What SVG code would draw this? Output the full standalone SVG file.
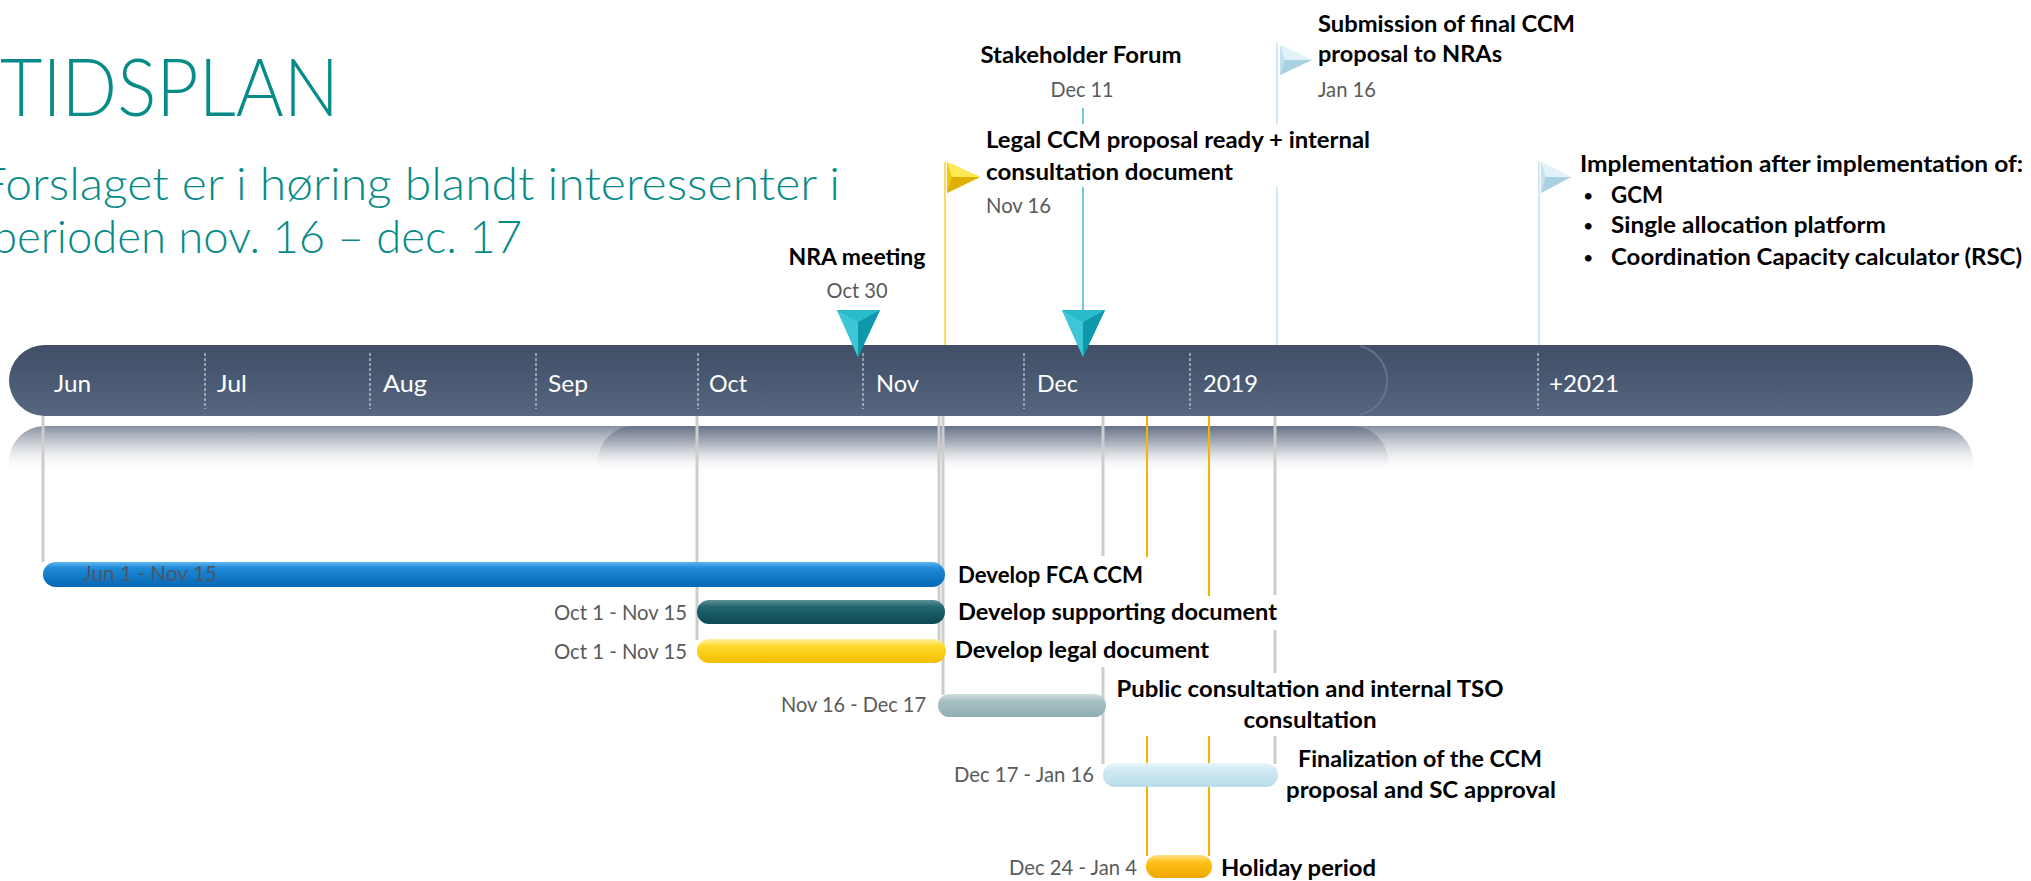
<svg xmlns="http://www.w3.org/2000/svg" width="2031" height="881" viewBox="0 0 2031 881">
<style>
text{font-family:Lato,"Open Sans","Liberation Sans",sans-serif}
.t{fill:#078B88;font-weight:300}
.b{font-weight:700;font-size:23px;fill:#000}
.bu{font-weight:400;font-size:18px;fill:#000}
.d{font-weight:400;font-size:21px;fill:#5A5A5A}
.m{font-weight:400;font-size:24px;fill:#fff}
.g{stroke:#CDCDCD;stroke-width:3;fill:none}
.o{stroke:#F5B400;stroke-width:2;fill:none}
.div{stroke:#D5DBE3;stroke-width:1.5;stroke-dasharray:3 2;opacity:.75}
</style>
<defs>
<linearGradient id="barG" x1="0" y1="0" x2="0" y2="1">
<stop offset="0" stop-color="#414E66"/><stop offset="0.5" stop-color="#4A5A73"/><stop offset="1" stop-color="#56677F"/>
</linearGradient>
<linearGradient id="refG" x1="0" y1="0" x2="0" y2="1">
<stop offset="0" stop-color="#5E6A80" stop-opacity="0.75"/><stop offset="0.35" stop-color="#8D96A5" stop-opacity="0.45"/><stop offset="0.9" stop-color="#ffffff" stop-opacity="0"/>
</linearGradient>
<linearGradient id="blueG" x1="0" y1="0" x2="0" y2="1">
<stop offset="0" stop-color="#5BB5EE"/><stop offset="0.25" stop-color="#1F8AD8"/><stop offset="1" stop-color="#0467B5"/>
</linearGradient>
<linearGradient id="tealG" x1="0" y1="0" x2="0" y2="1">
<stop offset="0" stop-color="#5C8F96"/><stop offset="0.3" stop-color="#226570"/><stop offset="1" stop-color="#0B4853"/>
</linearGradient>
<linearGradient id="yelG" x1="0" y1="0" x2="0" y2="1">
<stop offset="0" stop-color="#FFF3A0"/><stop offset="0.3" stop-color="#FFDA2A"/><stop offset="1" stop-color="#F2BD00"/>
</linearGradient>
<linearGradient id="pubG" x1="0" y1="0" x2="0" y2="1">
<stop offset="0" stop-color="#D2E0E1"/><stop offset="0.3" stop-color="#A8C0C2"/><stop offset="1" stop-color="#90AEB1"/>
</linearGradient>
<linearGradient id="finG" x1="0" y1="0" x2="0" y2="1">
<stop offset="0" stop-color="#EAF6FB"/><stop offset="0.3" stop-color="#CFE9F3"/><stop offset="1" stop-color="#B8DDEB"/>
</linearGradient>
<linearGradient id="holG" x1="0" y1="0" x2="0" y2="1">
<stop offset="0" stop-color="#FFE08A"/><stop offset="0.3" stop-color="#FFC21A"/><stop offset="1" stop-color="#EFA600"/>
</linearGradient>
</defs>

<rect width="2031" height="881" fill="#fff"/>

<g id="title">
<text class="t" x="0" y="116" font-size="80" textLength="339" lengthAdjust="spacingAndGlyphs">TIDSPLAN</text>
<text class="t" x="-20" y="200" font-size="45" textLength="860" lengthAdjust="spacingAndGlyphs">Forslaget er i høring blandt interessenter i</text>
<text class="t" x="-8" y="253" font-size="45" textLength="530" lengthAdjust="spacingAndGlyphs">perioden nov. 16 – dec. 17</text>
</g>

<g id="timeline">
<path d="M633.5,426 L1937.5,426 A35.5,35.5 0 0 1 1973,461.5 L1973,478 L598,478 L598,461.5 A35.5,35.5 0 0 1 633.5,426 Z" fill="url(#refG)"/>
<path d="M44.5,426 L1352.5,426 A35.5,35.5 0 0 1 1388,461.5 L1388,478 L9,478 L9,461.5 A35.5,35.5 0 0 1 44.5,426 Z" fill="url(#refG)"/>
<rect x="598" y="345" width="1375" height="71" rx="35.5" fill="url(#barG)"/>
<rect x="9" y="345" width="1379" height="71" rx="35.5" fill="url(#barG)"/>
<path d="M1360,346 A35.5,35.5 0 0 1 1360,415" fill="none" stroke="#6A7891" stroke-width="2" opacity="0.8"/>
<line class="div" x1="205" y1="353" x2="205" y2="409"/>
<line class="div" x1="370" y1="353" x2="370" y2="409"/>
<line class="div" x1="536" y1="353" x2="536" y2="409"/>
<line class="div" x1="698" y1="353" x2="698" y2="409"/>
<line class="div" x1="863" y1="353" x2="863" y2="409"/>
<line class="div" x1="1024" y1="353" x2="1024" y2="409"/>
<line class="div" x1="1190" y1="353" x2="1190" y2="409"/>
<line class="div" x1="1538" y1="353" x2="1538" y2="409"/>
<text class="m" x="54" y="392" textLength="37" lengthAdjust="spacingAndGlyphs">Jun</text>
<text class="m" x="217" y="392" textLength="30" lengthAdjust="spacingAndGlyphs">Jul</text>
<text class="m" x="383" y="392" textLength="44" lengthAdjust="spacingAndGlyphs">Aug</text>
<text class="m" x="548" y="392" textLength="40" lengthAdjust="spacingAndGlyphs">Sep</text>
<text class="m" x="709" y="392" textLength="38" lengthAdjust="spacingAndGlyphs">Oct</text>
<text class="m" x="876" y="392" textLength="43" lengthAdjust="spacingAndGlyphs">Nov</text>
<text class="m" x="1037" y="392" textLength="41" lengthAdjust="spacingAndGlyphs">Dec</text>
<text class="m" x="1203" y="392" textLength="55" lengthAdjust="spacingAndGlyphs">2019</text>
<text class="m" x="1549" y="392" textLength="70" lengthAdjust="spacingAndGlyphs">+2021</text>
</g>

<g id="connectors">
<line class="g" x1="43" y1="416" x2="43" y2="562"/>
<line class="g" x1="697" y1="416" x2="697" y2="640"/>
<line class="g" x1="939" y1="416" x2="939" y2="660"/>
<line class="g" x1="943" y1="416" x2="943" y2="695"/>
<line class="g" x1="1103" y1="416" x2="1103" y2="556"/>
<line class="g" x1="1103" y1="667" x2="1103" y2="764"/>
<line class="g" x1="1275" y1="416" x2="1275" y2="595"/>
<line class="g" x1="1275" y1="630" x2="1275" y2="673"/>
<line class="g" x1="1275" y1="736" x2="1275" y2="764"/>
<line class="o" x1="1147" y1="416" x2="1147" y2="557"/>
<line class="o" x1="1147" y1="736" x2="1147" y2="856"/>
<line class="o" x1="1209" y1="416" x2="1209" y2="596"/>
<line class="o" x1="1209" y1="736" x2="1209" y2="856"/>
<line x1="945" y1="162" x2="945" y2="345" stroke="#FFD966" stroke-width="2"/>
<line x1="1083" y1="108" x2="1083" y2="124" stroke="#6FCBD9" stroke-width="2"/>
<line x1="1083" y1="187" x2="1083" y2="312" stroke="#6FCBD9" stroke-width="2"/>
<line x1="1277" y1="43" x2="1277" y2="124" stroke="#CFE8F1" stroke-width="2"/>
<line x1="1277" y1="187" x2="1277" y2="345" stroke="#CFE8F1" stroke-width="2"/>
<line x1="1539" y1="162" x2="1539" y2="345" stroke="#CFE8F1" stroke-width="2"/>
</g>

<g id="nra-meeting">
<polygon points="837,310 880,310 858,357" fill="#1AAFC1"/>
<polygon points="837,310 858,322 858,357" fill="#3DC7D6"/>
<polygon points="880,310 858,322 858,357" fill="#0D98AB"/>
<polygon points="837,310 880,310 858,322" fill="#2ABBCB"/>
<text class="b" x="857" y="265" text-anchor="middle" textLength="137" lengthAdjust="spacingAndGlyphs">NRA meeting</text>
<text class="d" x="857" y="298" text-anchor="middle" textLength="61" lengthAdjust="spacingAndGlyphs">Oct 30</text>
</g>

<g id="stakeholder-forum">
<polygon points="1062,310 1105,310 1083,357" fill="#1AAFC1"/>
<polygon points="1062,310 1083,322 1083,357" fill="#3DC7D6"/>
<polygon points="1105,310 1083,322 1083,357" fill="#0D98AB"/>
<polygon points="1062,310 1105,310 1083,322" fill="#2ABBCB"/>
<text class="b" x="1081" y="63" text-anchor="middle" textLength="201" lengthAdjust="spacingAndGlyphs">Stakeholder Forum</text>
<text class="d" x="1082" y="97" text-anchor="middle" textLength="63" lengthAdjust="spacingAndGlyphs">Dec 11</text>
</g>

<g id="legal-ccm-ready">
<polygon points="947,162 980,177 947,193" fill="#F2C600"/>
<polygon points="947,162 980,177 952,177" fill="#FFE955"/>
<polygon points="947,193 980,177 952,177" fill="#E0B000"/>
<text class="b" x="986" y="148" textLength="384" lengthAdjust="spacingAndGlyphs">Legal CCM proposal ready + internal</text>
<text class="b" x="986" y="180" textLength="247" lengthAdjust="spacingAndGlyphs">consultation document</text>
<text class="d" x="986" y="213" textLength="65" lengthAdjust="spacingAndGlyphs">Nov 16</text>
</g>

<g id="submission">
<polygon points="1280,45 1312,60 1280,75" fill="#C3E2EE"/>
<polygon points="1280,45 1312,60 1285,60" fill="#E2F2F8"/>
<polygon points="1280,75 1312,60 1285,60" fill="#A8D2E2"/>
<text class="b" x="1318" y="32" textLength="257" lengthAdjust="spacingAndGlyphs">Submission of final CCM</text>
<text class="b" x="1318" y="62" textLength="184" lengthAdjust="spacingAndGlyphs">proposal to NRAs</text>
<text class="d" x="1318" y="97" textLength="58" lengthAdjust="spacingAndGlyphs">Jan 16</text>
</g>

<g id="implementation">
<polygon points="1541,162 1571,177 1541,193" fill="#C3E2EE"/>
<polygon points="1541,162 1571,177 1546,177" fill="#E2F2F8"/>
<polygon points="1541,193 1571,177 1546,177" fill="#A8D2E2"/>
<text class="b" x="1580" y="172" textLength="443" lengthAdjust="spacingAndGlyphs">Implementation after implementation of:</text>
<text class="bu" x="1583" y="202">•</text>
<text class="b" x="1611" y="203" textLength="52" lengthAdjust="spacingAndGlyphs">GCM</text>
<text class="bu" x="1583" y="232">•</text>
<text class="b" x="1611" y="233" textLength="275" lengthAdjust="spacingAndGlyphs">Single allocation platform</text>
<text class="bu" x="1583" y="264">•</text>
<text class="b" x="1611" y="265" textLength="411" lengthAdjust="spacingAndGlyphs">Coordination Capacity calculator (RSC)</text>
</g>

<g id="develop-fca-ccm">
<rect x="43" y="562" width="902" height="25" rx="12.5" fill="url(#blueG)"/>
<text class="d" x="83" y="581" style="fill:#4B5766" textLength="134" lengthAdjust="spacingAndGlyphs">Jun 1 - Nov 15</text>
<text class="b" x="958" y="583" textLength="185" lengthAdjust="spacingAndGlyphs">Develop FCA CCM</text>
</g>

<g id="develop-supporting-document">
<rect x="697" y="600" width="248" height="24" rx="12" fill="url(#tealG)"/>
<text class="d" x="687" y="620" text-anchor="end" textLength="133" lengthAdjust="spacingAndGlyphs">Oct 1 - Nov 15</text>
<text class="b" x="958" y="620" textLength="319" lengthAdjust="spacingAndGlyphs">Develop supporting document</text>
</g>

<g id="develop-legal-document">
<rect x="697" y="639" width="249" height="24" rx="12" fill="url(#yelG)"/>
<text class="d" x="687" y="659" text-anchor="end" textLength="133" lengthAdjust="spacingAndGlyphs">Oct 1 - Nov 15</text>
<text class="b" x="955" y="658" textLength="254" lengthAdjust="spacingAndGlyphs">Develop legal document</text>
</g>

<g id="public-consultation">
<rect x="938" y="694" width="168" height="23" rx="11.5" fill="url(#pubG)"/>
<text class="d" x="926" y="712" text-anchor="end" textLength="145" lengthAdjust="spacingAndGlyphs">Nov 16 - Dec 17</text>
<text class="b" x="1310" y="697" text-anchor="middle" textLength="387" lengthAdjust="spacingAndGlyphs">Public consultation and internal TSO</text>
<text class="b" x="1310" y="728" text-anchor="middle" textLength="133" lengthAdjust="spacingAndGlyphs">consultation</text>
</g>

<g id="finalization">
<rect x="1103" y="763" width="175" height="24" rx="12" fill="url(#finG)"/>
<text class="d" x="1094" y="782" text-anchor="end" textLength="140" lengthAdjust="spacingAndGlyphs">Dec 17 - Jan 16</text>
<text class="b" x="1420" y="767" text-anchor="middle" textLength="244" lengthAdjust="spacingAndGlyphs">Finalization of the CCM</text>
<text class="b" x="1421" y="798" text-anchor="middle" textLength="270" lengthAdjust="spacingAndGlyphs">proposal and SC approval</text>
</g>

<g id="holiday-period">
<rect x="1146" y="855" width="66" height="23" rx="11.5" fill="url(#holG)"/>
<text class="d" x="1137" y="875" text-anchor="end" textLength="128" lengthAdjust="spacingAndGlyphs">Dec 24 - Jan 4</text>
<text class="b" x="1221" y="876" textLength="155" lengthAdjust="spacingAndGlyphs">Holiday period</text>
</g>
</svg>
